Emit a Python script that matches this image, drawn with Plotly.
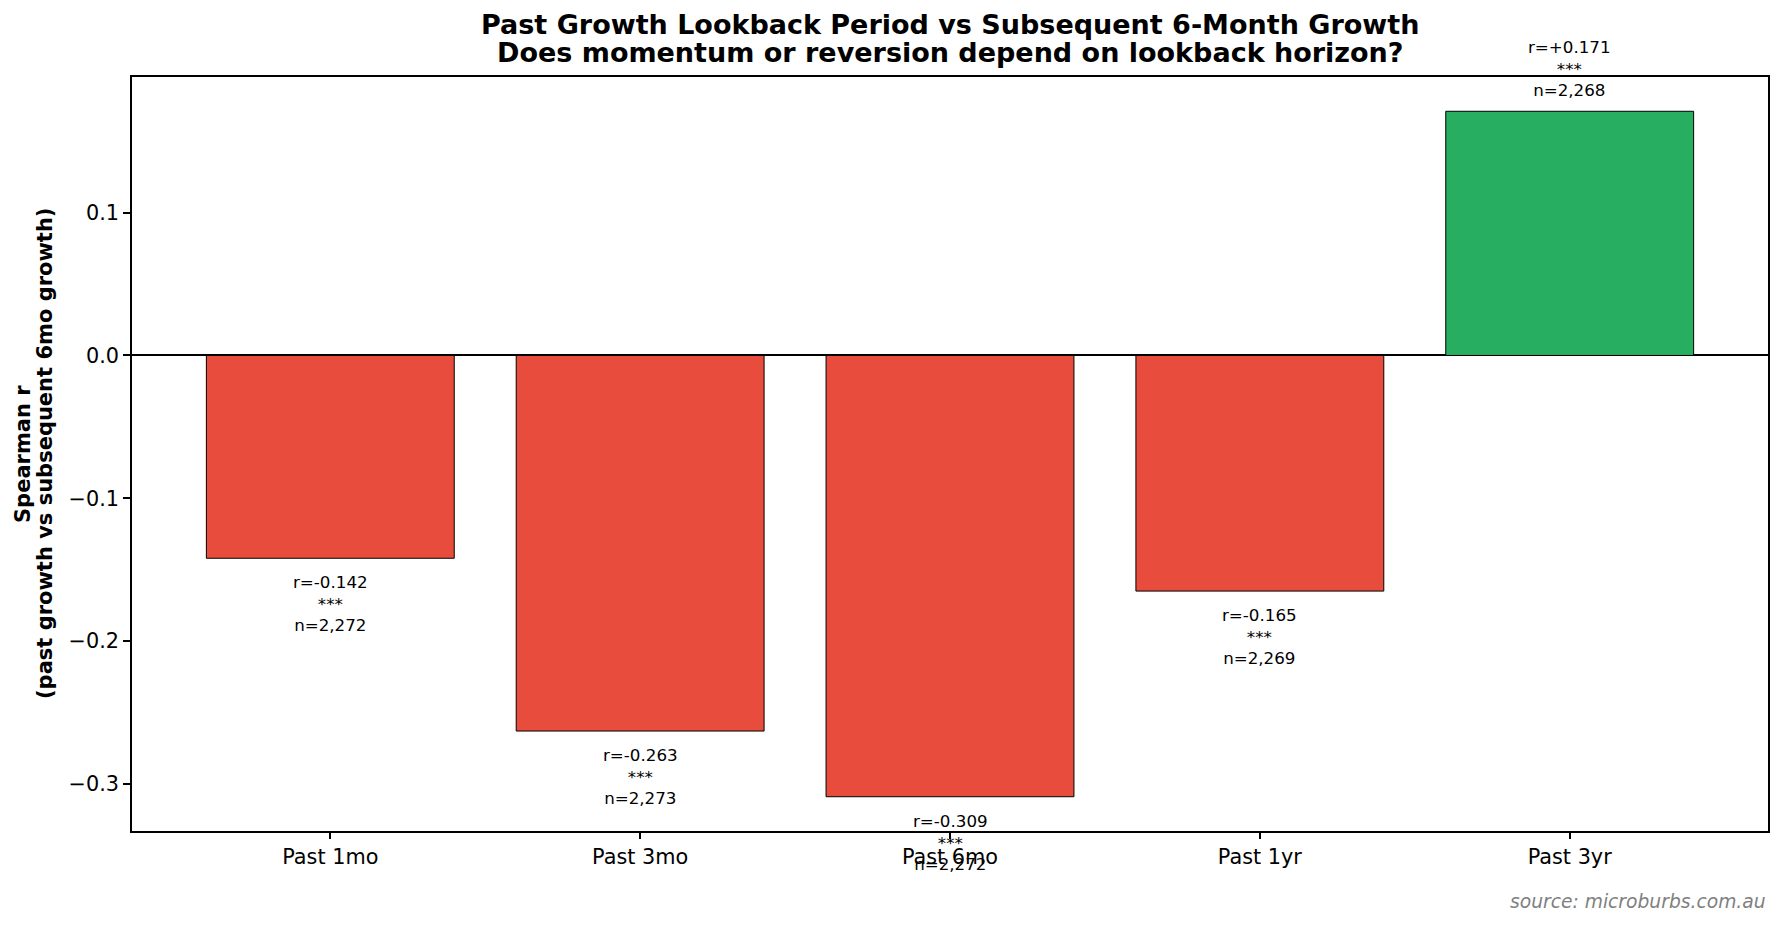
import plotly.graph_objects as go

# lookback windows and their correlation with subsequent 6-month growth
labels = ["Past 1mo", "Past 3mo", "Past 6mo", "Past 1yr", "Past 3yr"]
spearman_r = [-0.142, -0.263, -0.309, -0.165, 0.171]
n_obs = [2272, 2273, 2272, 2269, 2268]
signif = ["***", "***", "***", "***", "***"]

FONT = "DejaVu Sans"
RED = "#e74c3c"
GREEN = "#27ae60"

colors = [GREEN if v > 0 else RED for v in spearman_r]

fig = go.Figure(
    go.Bar(
        x=list(range(len(labels))),
        y=spearman_r,
        width=0.8,
        marker=dict(color=colors, line=dict(color="black", width=1)),
        hoverinfo="skip",
    )
)

annotations = []
for i, (v, n, s) in enumerate(zip(spearman_r, n_obs, signif)):
    annotations.append(dict(
        x=i, y=v, xref="x", yref="y",
        text=f"r={v:+.3f}<br>{s}<br>n={n:,}",
        showarrow=False,
        font=dict(family=FONT, size=16.7, color="black"),
        yanchor="bottom" if v > 0 else "top",
        yshift=9 if v > 0 else -12,
    ))

# title (two lines, bold)
annotations += [
    dict(x=0.5, y=1, xref="paper", yref="paper", yshift=53, yanchor="middle",
         text="<b>Past Growth Lookback Period vs Subsequent 6-Month Growth</b>",
         showarrow=False, font=dict(family=FONT, size=27, color="black")),
    dict(x=0.5, y=1, xref="paper", yref="paper", yshift=25, yanchor="middle",
         text="<b>Does momentum or reversion depend on lookback horizon?</b>",
         showarrow=False, font=dict(family=FONT, size=27, color="black")),
]

# y axis label (two lines, rotated)
annotations += [
    dict(x=0, y=0.5, xref="paper", yref="paper", xshift=-109, xanchor="center",
         text="<b>Spearman r</b>", textangle=-90, showarrow=False,
         font=dict(family=FONT, size=21, color="black")),
    dict(x=0, y=0.5, xref="paper", yref="paper", xshift=-87, xanchor="center",
         text="<b>(past growth vs subsequent 6mo growth)</b>", textangle=-90,
         showarrow=False, font=dict(family=FONT, size=21, color="black")),
]

annotations.append(dict(
    x=1, y=0, xref="paper", yref="paper", xanchor="right", yanchor="middle",
    yshift=-70, text="source: microburbs.com.au", showarrow=False,
    font=dict(family=FONT, size=18.7, color="#808080", style="italic"),
))

fig.update_layout(
    width=1783,
    height=926,
    margin=dict(l=124, r=23, t=69, b=103),
    plot_bgcolor="white",
    paper_bgcolor="white",
    showlegend=False,
    font=dict(family=FONT, size=20.8, color="black"),
    annotations=annotations,
    xaxis=dict(
        range=[-0.64, 4.64],
        tickvals=list(range(len(labels))),
        ticktext=labels,
        showgrid=False, zeroline=False,
        showline=True, mirror=True, linecolor="black", linewidth=1.5,
        ticks="outside", ticklen=6, tickwidth=1.5, tickcolor="black",
        tickfont=dict(family=FONT, size=20.8, color="black"),
    ),
    yaxis=dict(
        range=[-0.333, 0.195],
        dtick=0.1, tickformat=".1f",
        showgrid=False,
        zeroline=True, zerolinecolor="black", zerolinewidth=1.5,
        showline=True, mirror=True, linecolor="black", linewidth=1.5,
        ticks="outside", ticklen=7, tickwidth=1.5, tickcolor="black",
        tickfont=dict(family=FONT, size=20.8, color="black"),
    ),
)

fig.write_html("out.html")
